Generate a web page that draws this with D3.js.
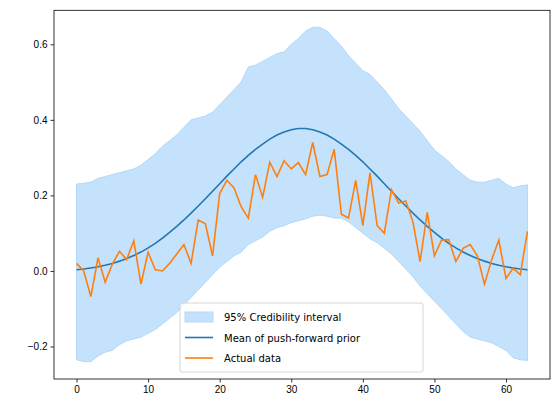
<!DOCTYPE html>
<html><head><meta charset="utf-8">
<script src="https://cdn.jsdelivr.net/npm/d3@7"></script>
<style>body{margin:0;background:#fff}svg{font-family:"DejaVu Sans",sans-serif}</style>
</head><body><svg id="c" width="559" height="413"></svg>
<script>
const actual=[0.02,0.0,-0.068,0.035,-0.03,0.018,0.052,0.03,0.08,-0.035,0.05,0.003,0.0,0.02,0.045,0.07,0.02,0.135,0.125,0.04,0.205,0.24,0.22,0.17,0.14,0.255,0.195,0.288,0.25,0.292,0.27,0.287,0.255,0.34,0.25,0.255,0.322,0.15,0.14,0.24,0.12,0.26,0.12,0.1,0.215,0.18,0.185,0.13,0.025,0.155,0.04,0.082,0.083,0.025,0.06,0.07,0.04,-0.035,0.03,0.082,-0.02,0.007,-0.01,0.105];
const mean=[.003,.005,.008,.011,.015,.020,.026,.033,.041,.050,.061,.073,.087,.102,.118,.135,.153,.172,.191,.211,.231,.251,.270,.289,.306,.322,.336,.349,.360,.368,.374,.377,.377,.374,.368,.360,.349,.336,.322,.306,.289,.270,.251,.231,.211,.191,.172,.153,.135,.118,.102,.087,.073,.061,.050,.041,.033,.026,.020,.015,.011,.008,.005,.003];
const upper=[.23,.232,.235,.245,.25,.255,.26,.265,.27,.28,.295,.31,.33,.345,.36,.38,.4,.405,.41,.42,.44,.46,.48,.5,.54,.545,.555,.565,.575,.58,.6,.615,.635,.645,.645,.635,.615,.595,.57,.55,.53,.52,.5,.48,.455,.43,.41,.39,.37,.345,.32,.305,.29,.27,.255,.24,.235,.235,.24,.245,.23,.22,.225,.228];
const lower=[-.235,-.24,-.24,-.225,-.215,-.21,-.195,-.185,-.18,-.175,-.165,-.155,-.14,-.125,-.11,-.09,-.07,-.05,-.03,-.01,.01,.025,.04,.05,.07,.08,.09,.105,.115,.12,.128,.133,.138,.145,.148,.145,.14,.14,.13,.115,.1,.085,.075,.06,.045,.025,.005,-.015,-.04,-.06,-.08,-.1,-.12,-.14,-.16,-.175,-.18,-.185,-.19,-.2,-.21,-.23,-.235,-.237];
const xTicks=[0,10,20,30,40,50,60];
const yTicks=[-0.2,0.0,0.2,0.4,0.6];
const L=54,R=550,T=10.3,B=379;
const svg=d3.select("#c");
const x=d3.scaleLinear().domain([-3.15,66.15]).range([L,R]);
const y=d3.scaleLinear().domain([-0.286,0.69]).range([B,T]);
const idx=d3.range(actual.length);
svg.append("path").datum(idx).attr("fill","#c5e2fc").attr("stroke","#b3d7fb").attr("stroke-width",1)
 .attr("d",d3.area().x(i=>x(i)).y0(i=>y(lower[i])).y1(i=>y(upper[i])));
svg.append("path").datum(idx).attr("fill","none").attr("stroke","#1f77b4").attr("stroke-width",1.6)
 .attr("d",d3.line().x(i=>x(i)).y(i=>y(mean[i])));
svg.append("path").datum(idx).attr("fill","none").attr("stroke","#ff7f0e").attr("stroke-width",1.6)
 .attr("d",d3.line().x(i=>x(i)).y(i=>y(actual[i])));
const ax=svg.append("g").attr("transform",`translate(0,${B})`).call(d3.axisBottom(x).tickValues(xTicks).tickSize(3.5).tickPadding(3).tickFormat(d3.format("d")));
const ay=svg.append("g").attr("transform",`translate(${L},0)`).call(d3.axisLeft(y).tickValues(yTicks).tickSize(3.5).tickPadding(3).tickFormat(d=>d3.format(".1f")(d).replace("-","−")));
[ax,ay].forEach(g=>{g.select(".domain").remove();g.selectAll("text").attr("font-size",10).attr("fill","#000");g.selectAll("line").attr("stroke","#000").attr("stroke-width",0.8);});
svg.append("rect").attr("x",L).attr("y",T).attr("width",R-L).attr("height",B-T).attr("fill","none").attr("stroke","#000").attr("stroke-width",0.8);
const lg=svg.append("g");
lg.append("rect").attr("x",180).attr("y",303).attr("width",243).attr("height",69).attr("rx",2).attr("fill","#fff").attr("fill-opacity",0.8).attr("stroke","#ccc").attr("stroke-width",0.8);
const items=[{t:"95% Credibility interval",k:"a"},{t:"Mean of push-forward prior",k:"m"},{t:"Actual data",k:"d"}];
items.forEach((it,i)=>{const yy=316+i*20.5;
 if(it.k==="a") lg.append("rect").attr("x",185).attr("y",yy-4).attr("width",28).attr("height",10).attr("fill","#c5e2fc").attr("stroke","#b3d7fb");
 else lg.append("line").attr("x1",185).attr("x2",213).attr("y1",yy+1).attr("y2",yy+1).attr("stroke",it.k==="m"?"#1f77b4":"#ff7f0e").attr("stroke-width",1.6);
 lg.append("text").attr("x",224).attr("y",yy+5).attr("font-size",10).text(it.t);});
</script></body></html>
